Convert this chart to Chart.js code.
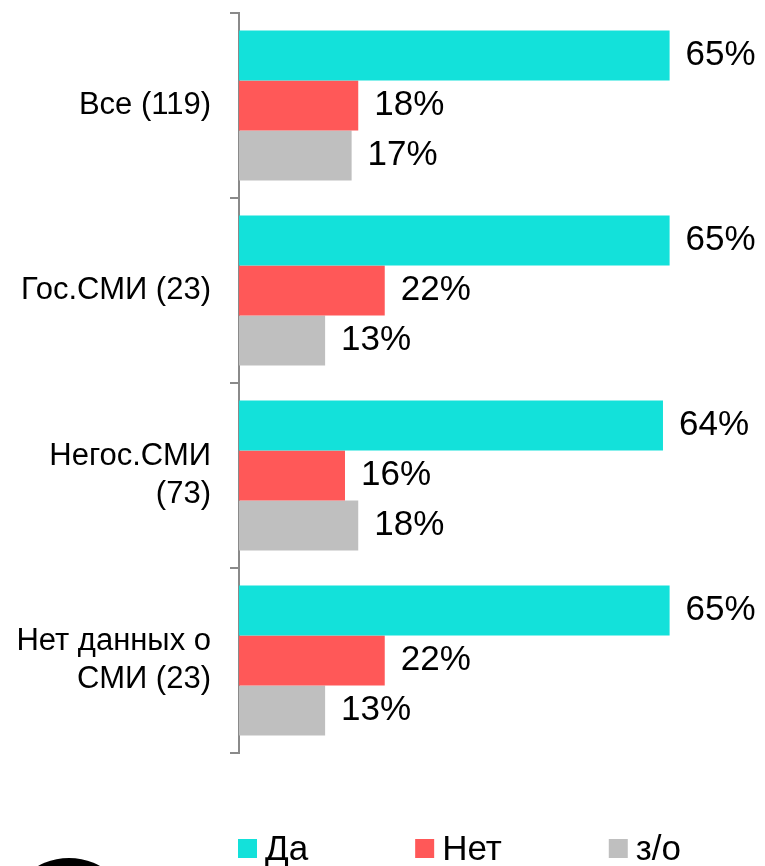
<!DOCTYPE html>
<html>
<head>
<meta charset="utf-8">
<script src="https://cdn.jsdelivr.net/npm/chart.js@4/dist/chart.umd.min.js"></script>
<style>
  html, body { margin: 0; padding: 0; background: #fff; }
  #box { width: 765px; height: 866px; }
</style>
</head>
<body>
<div id="box"><canvas id="myChart"></canvas></div>
<script>
//////////////////// Data ////////////////////
const categories = ['Все (119)', 'Гос.СМИ (23)', ['Негос.СМИ', '(73)'], ['Нет данных о', 'СМИ (23)']];
const seriesNames = ['Да', 'Нет', 'з/о'];
const yesValues = [65, 65, 64, 65];
const noValues = [18, 22, 16, 22];
const dkValues = [17, 13, 18, 13];
const seriesColors = ['rgb(19, 225, 218)', 'rgb(255, 88, 88)', 'rgb(191, 191, 191)'];
//////////////////////////////////////////////

const FONT = "'Liberation Sans', Arial, sans-serif";
const chart1 = document.getElementById('myChart').getContext('2d');

///////////// Value labels at bar ends /////////////
const barLabels = {
    id: 'barLabels',
    afterDatasetsDraw(chart) {
        const { ctx } = chart;
        ctx.save();
        ctx.font = '35px ' + FONT;
        ctx.fillStyle = '#000';
        ctx.textAlign = 'left';
        ctx.textBaseline = 'middle';
        chart.data.datasets.forEach((ds, i) => {
            chart.getDatasetMeta(i).data.forEach((bar, j) => {
                ctx.fillText(ds.data[j] + '%', bar.x + 16, bar.y);
            });
        });
        ctx.restore();
    }
};

///////////// Legend + logo piece at the bottom /////////////
const bottomLegend = {
    id: 'bottomLegend',
    afterDraw(chart) {
        const { ctx, chartArea: { left } } = chart;
        ctx.save();
        ctx.font = '35px ' + FONT;
        ctx.textBaseline = 'alphabetic';
        ctx.textAlign = 'left';
        let x = left - 1;
        chart.data.datasets.forEach((ds) => {
            ctx.fillStyle = ds.backgroundColor;
            ctx.fillRect(x, 839, 19, 19);
            ctx.fillStyle = '#000';
            ctx.fillText(ds.label, x + 27, 860);
            x += 27 + ctx.measureText(ds.label).width + 107;
        });
        // black round logo, cut by the bottom edge
        ctx.beginPath();
        ctx.fillStyle = '#000';
        ctx.arc(69, 922, 64, 0, Math.PI * 2);
        ctx.fill();
        ctx.restore();
    }
};

///////////// Config /////////////
const config = {
    type: 'bar',
    data: {
        labels: categories,
        datasets: [
            { label: seriesNames[0], data: yesValues, backgroundColor: seriesColors[0] },
            { label: seriesNames[1], data: noValues, backgroundColor: seriesColors[1] },
            { label: seriesNames[2], data: dkValues, backgroundColor: seriesColors[2] }
        ]
    },
    options: {
        indexAxis: 'y',
        responsive: true,
        maintainAspectRatio: false,
        animation: false,
        categoryPercentage: 0.81,
        barPercentage: 1,
        layout: {
            padding: { top: 13, bottom: 113, left: 0, right: 0 }
        },
        plugins: {
            legend: { display: false },
            tooltip: { enabled: false }
        },
        scales: {
            x: {
                display: false,
                min: 0,
                max: 79.4
            },
            y: {
                afterFit(scale) {
                    scale.width = 239;
                    scale.paddingTop = 0;
                    scale.paddingBottom = 0;
                },
                border: { display: true, color: '#8a8a8a', width: 2 },
                grid: {
                    drawOnChartArea: false,
                    drawTicks: true,
                    tickLength: 9,
                    color: '#8a8a8a',
                    lineWidth: 2
                },
                ticks: {
                    color: '#000',
                    padding: 19,
                    font: { family: FONT, size: 31, lineHeight: 1.23 }
                }
            }
        }
    },
    plugins: [barLabels, bottomLegend]
};

new Chart(chart1, config);
</script>
</body>
</html>
